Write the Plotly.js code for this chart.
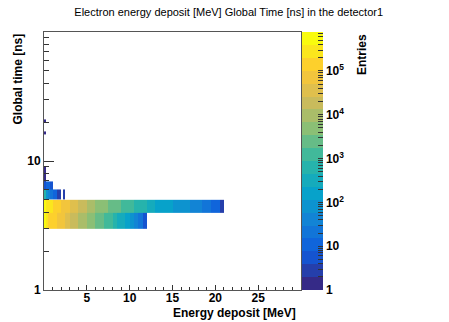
<!DOCTYPE html>
<html>
<head>
<meta charset="utf-8">
<script src="https://cdn.plot.ly/plotly-3.0.1.min.js"></script>
<style>
  html, body { margin: 0; padding: 0; background: #fff; }
  #chart { width: 449px; height: 322px; }
</style>
</head>
<body>
<div id="chart"></div>
<script>
// energy bins [MeV] used by the two dense time bands
var bandEdges = [0, 0.25, 0.5, 1, 1.5, 2, 2.5, 3, 3.5, 4, 4.5, 5, 5.5, 6, 6.5, 7, 7.5, 8, 8.5, 9, 9.5, 10,
  10.5, 11, 11.5, 12, 12.5, 13, 13.5, 14, 14.5, 15, 15.5, 16, 16.5, 17, 17.5, 18, 18.5, 19, 19.5, 20, 20.5, 21];
var bandTimes = [3, 4, 5];

// entries, time 3-4 ns
var t34 = [650000, 230000, 180000, 125000, 80000, 56000, 35000, 25000, 18000, 12600, 9000, 6300, 4000,
  2800, 2000, 1400, 1000, 630, 400, 250, 160, 90, 50, 20, 5];
// entries, time 4-5 ns
var t45 = [700000, 260000, 200000, 160000, 110000, 80000, 60000, 40000, 32000, 25000, 16000, 12600, 10000,
  6300, 5000, 4000, 2800, 2200, 1800, 1400, 1100, 900, 700, 560, 450, 350, 280, 220, 180, 150, 130, 110,
  95, 80, 70, 55, 45, 35, 28, 22, 15, 8, 2];

// sparse cells above 5 ns, fine energy bins
var fineEdges = [0, 0.25, 0.5, 0.75, 1, 1.25, 1.5, 1.75, 2, 2.25, 2.5, 2.75, 3];
var sparseTimes = [5, 6, 7, 8, 9, 10, 11, 12, 13, 14, 15, 16, 17, 18, 19, 20, 21];
var t56 = [800, 80, 30, 20, 15, 10, 2, 3, null, 2];
var t67 = [5, 15, 8, 4];
var t78 = [1];
var t89 = [1];
var t1617 = [1];
var t2021 = [1];

var zMaxLog = 5.89;

function toLog(row, n) {
  var out = [];
  for (var i = 0; i < n; i++) {
    var v = row && row[i];
    out.push(v ? Math.log10(v) : null);
  }
  return out;
}

var bandZ = [toLog(t34, bandEdges.length - 1), toLog(t45, bandEdges.length - 1)];

var sparseRows = {5: t56, 6: t67, 7: t78, 8: t89, 16: t1617, 20: t2021};
var sparseZ = [];
for (var k = 0; k < sparseTimes.length - 1; k++) {
  sparseZ.push(toLog(sparseRows[sparseTimes[k]], fineEdges.length - 1));
}

// ROOT kBird palette, 20 contour levels
var birdStops = [0, 0.125, 0.25, 0.375, 0.5, 0.625, 0.75, 0.875, 1];
var birdR = [0.2082, 0.0592, 0.0780, 0.0232, 0.1802, 0.5301, 0.8186, 0.9956, 0.9764];
var birdG = [0.1664, 0.3599, 0.5041, 0.6419, 0.7178, 0.7492, 0.7328, 0.7862, 0.9832];
var birdB = [0.5293, 0.8684, 0.8385, 0.7914, 0.6425, 0.4662, 0.3499, 0.1968, 0.0539];
function bird(f) {
  var i = 0;
  while (i < birdStops.length - 2 && f > birdStops[i + 1]) i++;
  var t = (f - birdStops[i]) / (birdStops[i + 1] - birdStops[i]);
  var c = function (a) { return Math.round(255 * (a[i] + t * (a[i + 1] - a[i]))); };
  return 'rgb(' + c(birdR) + ',' + c(birdG) + ',' + c(birdB) + ')';
}
var nLev = 20;
var scale = [];
for (var l = 0; l < nLev; l++) {
  var col = bird(l / (nLev - 1));
  scale.push([l / nLev, col]);
  scale.push([(l + 1) / nLev, col]);
}

// colorbar ticks: decades labelled, minor ones blank
var cbVals = [], cbText = [];
for (var d = 0; d <= 5; d++) {
  for (var m = 1; m <= 9; m++) {
    var v = d + Math.log10(m);
    if (v > zMaxLog) break;
    cbVals.push(v);
    if (m === 1) cbText.push(d === 0 ? '1' : d === 1 ? '10' : '10<sup>' + d + '</sup>');
    else cbText.push('');
  }
}

var tickFont = {family: 'Liberation Sans, Arial, sans-serif', size: 12, color: '#000', weight: 'bold'};

var data = [
  {type: 'heatmap', x: bandEdges, y: bandTimes, z: bandZ, coloraxis: 'coloraxis', hoverinfo: 'skip'},
  {type: 'heatmap', x: fineEdges, y: sparseTimes, z: sparseZ, coloraxis: 'coloraxis', hoverinfo: 'skip'}
];

var layout = {
  width: 449,
  height: 322,
  margin: {l: 44, r: 148, t: 32, b: 32},
  paper_bgcolor: '#fff',
  plot_bgcolor: '#fff',
  showlegend: false,
  title: {
    text: 'Electron energy deposit [MeV] Global Time [ns] in the detector1',
    font: {family: 'Liberation Sans, Arial, sans-serif', size: 11, color: '#000'},
    xref: 'container', yref: 'container', x: 228.7 / 449, xanchor: 'center', y: 1 - 12 / 322, yanchor: 'middle'
  },
  xaxis: {
    range: [0, 30], tickvals: [5, 10, 15, 20, 25], ticks: 'inside', ticklen: 5, tickcolor: '#333',
    ticklabelstandoff: -3,
    minor: {dtick: 1, ticks: 'inside', ticklen: 3, tickcolor: '#333'},
    showline: true, mirror: true, linecolor: '#555', showgrid: false, zeroline: false, tickfont: tickFont
  },
  yaxis: {
    type: 'log', range: [0, 2], tickvals: [1, 10], ticktext: ['1', '10'], ticks: 'inside', ticklen: 10, tickcolor: '#333',
    minor: {tickvals: [2, 3, 4, 5, 6, 7, 8, 9, 20, 30, 40, 50, 60, 70, 80, 90], ticks: 'inside', ticklen: 5, tickcolor: '#333'},
    showline: true, mirror: true, linecolor: '#555', showgrid: false, zeroline: false, tickfont: tickFont
  },
  coloraxis: {
    colorscale: scale, cmin: 0, cmax: zMaxLog,
    colorbar: {
      x: 1 + 1 / 257, xanchor: 'left', xpad: 0, y: 0.5, yanchor: 'middle', ypad: 0, len: 1, thickness: 21,
      outlinewidth: 0, tickmode: 'array', tickvals: cbVals, ticktext: cbText,
      ticks: 'inside', ticklen: 5, tickcolor: '#333', tickfont: tickFont
    }
  },
  annotations: [
    {text: 'Energy deposit [MeV]', xref: 'paper', yref: 'paper', x: 254 / 257, y: -23 / 258,
      xanchor: 'right', yanchor: 'middle', showarrow: false, font: tickFont},
    {text: 'Global time [ns]', xref: 'paper', yref: 'paper', x: -27 / 257, y: 1,
      xanchor: 'center', yanchor: 'top', textangle: -90, showarrow: false, font: tickFont},
    {text: 'Entries', xref: 'paper', yref: 'paper', x: 317.5 / 257, y: 1,
      xanchor: 'center', yanchor: 'top', textangle: -90, showarrow: false, font: tickFont}
  ]
};

Plotly.newPlot('chart', data, layout, {staticPlot: true, displayModeBar: false});
</script>
</body>
</html>
